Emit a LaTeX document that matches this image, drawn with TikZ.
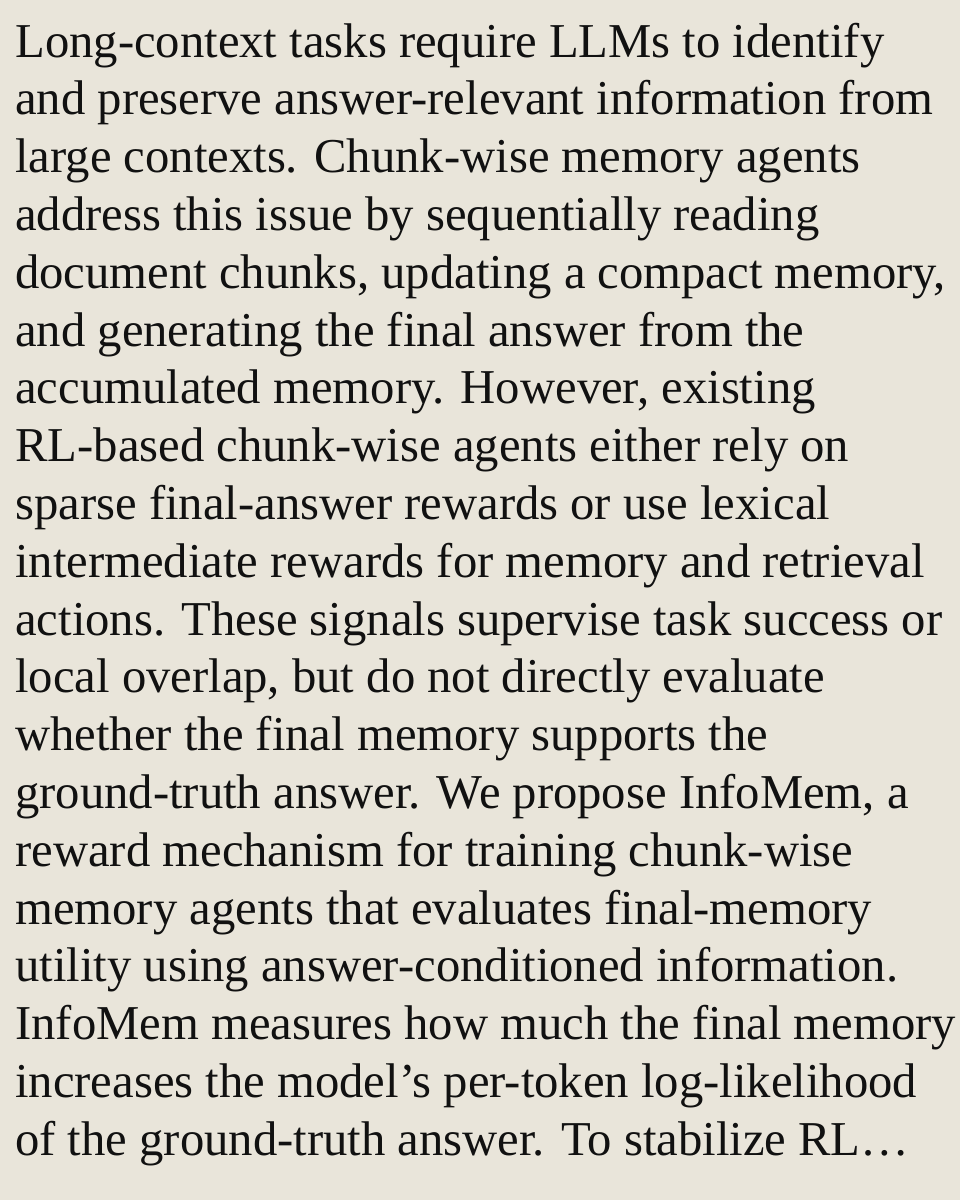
\documentclass[tikz,border=0pt]{standalone}
\usepackage{fontspec}
\setmainfont{Liberation Serif}
\definecolor{bg}{HTML}{E9E5DA}
\definecolor{ink}{HTML}{111111}
\begin{document}
\begin{tikzpicture}[x=1pt,y=1pt,line/.style={anchor=base west,inner sep=0pt,text=ink,font=\fontsize{36.5}{40}\selectfont}]
\fill[bg] (0,0) rectangle (720,-900);
\useasboundingbox (0,0) rectangle (720,-900);
\foreach \t [count=\i from 0] in {
Long-context tasks require LLMs to identify,
and preserve answer-relevant information from,
large contexts. Chunk-wise memory agents,
address this issue by sequentially reading,
{document chunks, updating a compact memory,},
and generating the final answer from the,
{accumulated memory. However, existing},
RL-based chunk-wise agents either rely on,
sparse final-answer rewards or use lexical,
intermediate rewards for memory and retrieval,
actions. These signals supervise task success or,
{local overlap, but do not directly evaluate},
whether the final memory supports the,
{ground-truth answer. We propose InfoMem, a},
reward mechanism for training chunk-wise,
memory agents that evaluates final-memory,
utility using answer-conditioned information.,
InfoMem measures how much the final memory,
increases the model's per-token log-likelihood,
of the ground-truth answer. To stabilize RL…}
{\node[line] (l\i) at (11.25,{-42.75-43.35*\i}) {\t};}
\end{tikzpicture}
\end{document}
